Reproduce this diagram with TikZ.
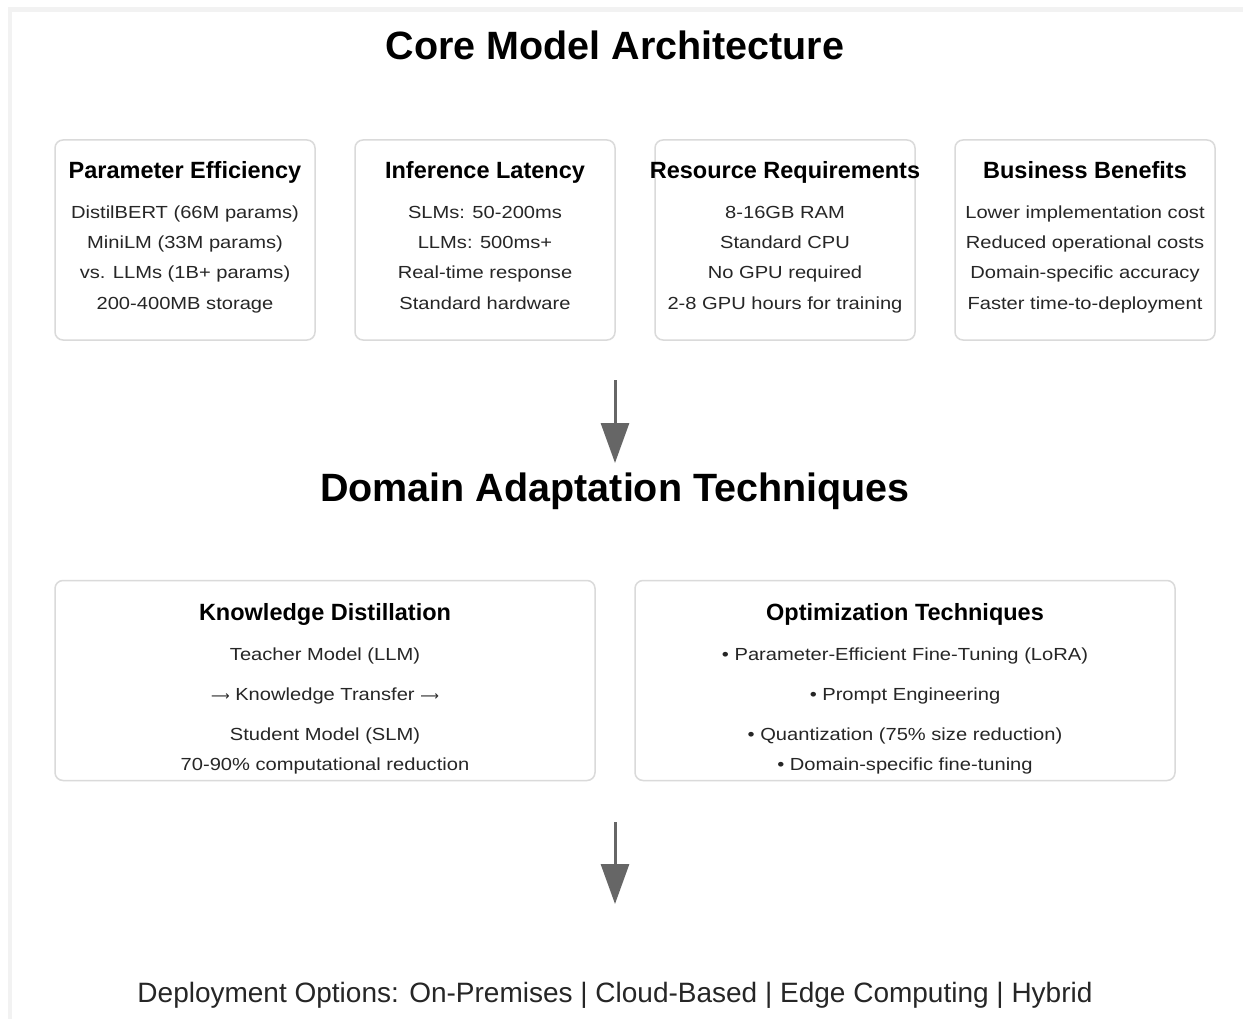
\documentclass[tikz,border=0pt]{standalone}
\usepackage{fontspec}
\setmainfont{Liberation Sans}
\newfontfamily\bodyfont[FakeStretch=1.15]{Liberation Sans}
\newfontfamily\arrowfont{DejaVu Sans}
\usetikzlibrary{arrows.meta,positioning}
\definecolor{panelline}{HTML}{DADADA}
\definecolor{framegray}{HTML}{F2F2F2}
\definecolor{textgray}{HTML}{262626}
\definecolor{arrowgray}{HTML}{666666}
\tikzset{
  panel/.style={draw=panelline, line width=1.5pt, rounded corners=8pt, fill=white, minimum width=260pt, minimum height=200pt, inner sep=0pt},
  widepanel/.style={panel, minimum width=540pt},
  heading/.style={anchor=base, font=\bfseries\fontsize{23.5}{27}\selectfont, text=black},
  entry/.style={anchor=base, font=\bodyfont\fontsize{17.5}{21}\selectfont, text=textgray},
  bigtitle/.style={anchor=base, font=\bfseries\fontsize{39.5}{46}\selectfont, text=black},
  flow/.style={draw=arrowgray, line width=3pt, -{Triangle[length=40pt,width=28pt]}}
}
\begin{document}
\begin{tikzpicture}[x=1pt,y=-1pt]
\useasboundingbox (0,0) rectangle (1243,1019);
% frame
\fill[framegray] (8,7) rectangle (1243,1019);
\fill[white] (12,12) rectangle (1243,1019);

\node[bigtitle] (coretitle) at (615,60) {Core Model Architecture};

% top row of panels
\foreach \cx/\nm/\head/\la/\lb/\lc/\ld in {
  185/param/Parameter Efficiency/DistilBERT (66M params)/MiniLM (33M params)/vs. LLMs (1B+ params)/200-400MB storage,
  485/latency/Inference Latency/SLMs: 50-200ms/LLMs: 500ms+/Real-time response/Standard hardware,
  785/resource/Resource Requirements/8-16GB RAM/Standard CPU/No GPU required/2-8 GPU hours for training,
  1085/business/Business Benefits/Lower implementation cost/Reduced operational costs/Domain-specific accuracy/Faster time-to-deployment}{
  \node[panel] (\nm) at (\cx,240) {};
  \node[heading] (\nm-head) at (\cx,179) {\head};
  \node[entry] at (\cx,219) {\la};
  \node[entry] at (\cx,249) {\lb};
  \node[entry] at (\cx,279) {\lc};
  \node[entry] at (\cx,309) {\ld};
}

\coordinate (flowA) at (615,380);
\coordinate (flowB) at (615,463);
\draw[flow] (flowA) -- (flowB);

\node[bigtitle] (domaintitle) at (615,501) {Domain Adaptation Techniques};

% lower panels
\node[widepanel] (distill) at (325,680.5) {};
\node[heading] (distill-head) at (325,620) {Knowledge Distillation};
\node[entry] at (325,660) {Teacher Model (LLM)};
\node[entry] at (325,700) {{\arrowfont\fontsize{13}{16}\selectfont ⟶} Knowledge Transfer {\arrowfont\fontsize{13}{16}\selectfont ⟶}};
\node[entry] at (325,740) {Student Model (SLM)};
\node[entry] at (325,770) {70-90\% computational reduction};

\node[widepanel] (optim) at (905,680.5) {};
\node[heading] (optim-head) at (905,620) {Optimization Techniques};
\node[entry] at (905,660) {• Parameter-Efficient Fine-Tuning (LoRA)};
\node[entry] at (905,700) {• Prompt Engineering};
\node[entry] at (905,740) {• Quantization (75\% size reduction)};
\node[entry] at (905,770) {• Domain-specific fine-tuning};

\coordinate (flowC) at (615,822);
\coordinate (flowD) at (615,904);
\draw[flow] (flowC) -- (flowD);

\node[anchor=base, font=\fontsize{28}{32}\selectfont, text=textgray] (deploy) at (615,1002) {Deployment Options: On-Premises | Cloud-Based | Edge Computing | Hybrid};
\end{tikzpicture}
\end{document}
